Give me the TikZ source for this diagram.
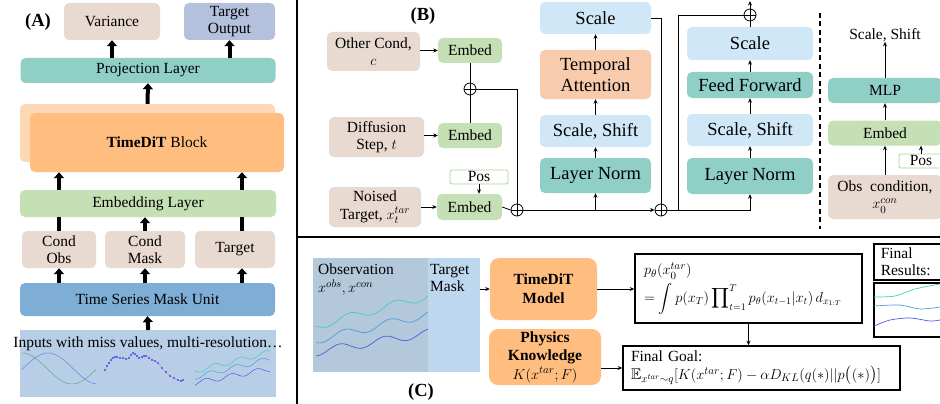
\documentclass[tikz,border=0pt]{standalone}
\usepackage{amsmath,amssymb}
\usepackage{fontspec}
\setmainfont{Liberation Serif}
\usetikzlibrary{arrows.meta}

\definecolor{condtan}{HTML}{E8DAD0}
\definecolor{outblue}{HTML}{B4C1DC}
\definecolor{projteal}{HTML}{8FCFC6}
\definecolor{blklight}{HTML}{FDD8B4}
\definecolor{blkorange}{HTML}{FFBE80}
\definecolor{embgreen}{HTML}{C5E0B4}
\definecolor{posgreen}{HTML}{A9D49A}
\definecolor{maskblue}{HTML}{7EAED6}
\definecolor{inblue}{HTML}{B7CEE6}
\definecolor{scaleblue}{HTML}{D0E7F8}
\definecolor{attsalmon}{HTML}{F8CBAD}
\definecolor{obsgray}{HTML}{B4C8DC}
\definecolor{tmaskblue}{HTML}{BDD7EE}
\definecolor{wteal}{HTML}{45CDB2}
\definecolor{wblue}{HTML}{4C9DD8}
\definecolor{wdark}{HTML}{4A5BE0}
\definecolor{sgreen}{HTML}{5FAA84}
\definecolor{sblue}{HTML}{6283E0}
\definecolor{npink}{HTML}{C79AB2}

\begin{document}
\begin{tikzpicture}[x=1pt, y=-1pt,
  every node/.style={font=\fontsize{15.5}{17.5}\selectfont, inner sep=0pt},
  box/.style={rounded corners=5pt, align=center},
  bigbox/.style={box, font=\fontsize{18.5}{21}\selectfont},
  tag/.style={font=\fontsize{18.5}{21}\selectfont\bfseries},
  fatarr/.style={line width=4pt, -{Triangle[length=6pt,width=10pt]}},
  fatbar/.style={line width=4pt},
  arr/.style={line width=0.8pt, -{Stealth[length=4.5pt,width=4pt]}},
  conn/.style={line width=0.8pt},
  frame/.style={draw, line width=1.5pt},
  wave/.style={line width=0.7pt, smooth},
  oplus/.style={circle, draw, line width=0.8pt, minimum size=12pt,
    path picture={\draw[line width=0.8pt]
      (path picture bounding box.north) -- (path picture bounding box.south)
      (path picture bounding box.west) -- (path picture bounding box.east);}}]
\useasboundingbox (0,0) rectangle (940,404);

% ---- (A) overall model ----
\node[tag] (taga) at (38,22) {(A)};
\node[box, fill=condtan, minimum width=96pt, minimum height=37pt] (var) at (112,21.5) {Variance};
\node[box, fill=outblue, minimum width=91pt, minimum height=37pt] (tgtout) at (229.5,21.5) {Target\\Output};
\node[box, fill=projteal, minimum width=255pt, minimum height=25pt] (proj) at (148,70.5) {Projection Layer};
\node[box, fill=blklight, minimum width=255pt, minimum height=58pt] (blkbg) at (147.5,133) {};
\node[box, fill=blkorange, minimum width=254pt, minimum height=59pt] (blk) at (157,142.5) {\textbf{TimeDiT} Block};
\node[box, fill=embgreen, minimum width=256pt, minimum height=27pt] (emb) at (148,203.5) {Embedding Layer};
\node[box, fill=condtan, minimum width=74pt, minimum height=37pt] (cobs) at (59,249.5) {Cond\\Obs};
\node[box, fill=condtan, minimum width=80pt, minimum height=37pt] (cmask) at (145,249.5) {Cond\\Mask};
\node[box, fill=condtan, minimum width=80pt, minimum height=37pt] (ctgt) at (235,249.5) {Target};
\node[box, fill=maskblue, minimum width=255pt, minimum height=33pt] (tsmu) at (147.5,299.5) {Time Series Mask Unit};
\node[fill=inblue, minimum width=256pt, minimum height=67pt, anchor=north west] (inp) at (20,330) {};
\node (inptxt) at (148,344) {Inputs with miss values, multi-resolution…};

% little input sketches
\draw[sgreen, line width=0.5pt] plot[domain=22:96, samples=40, smooth] (\x, {368.5-15.5*cos((\x-22)*3.6)});
\draw[sblue, line width=0.5pt] plot[domain=22:96, samples=40, smooth] (\x, {368.5-15.5*cos((\x-48)*3.6)});
\draw[npink, line width=0.6pt] plot[smooth, tension=0.3] coordinates {(105,370) (109,363) (112,358) (117,357) (122,358) (128,359) (133,353) (137,356) (140,358) (146,356) (151,359) (157,362) (161,367) (165,372) (168,374) (172,377) (176,379) (180,381) (183,380)};
\draw[blue!80, only marks, mark=*, mark size=0.55pt] plot coordinates {(105,370) (107,366) (109,363) (111,360) (113,358) (115,357) (117,357) (120,358) (123,358) (126,359) (129,358) (131,355) (133,353) (135,354) (137,356) (139,358) (142,357) (144,356) (146,356) (149,358) (152,360) (155,361) (158,363) (162,368) (166,372) (170,376) (174,378) (178,380) (181,381) (183,380)};
\draw[wteal, line width=0.5pt] plot[domain=195:270, samples=40, smooth] (\x, {371-(\x-195)*0.25+2.5*sin((\x-195)*14)});
\draw[wblue, line width=0.5pt] plot[domain=195:270, samples=40, smooth] (\x, {377-(\x-195)*0.24+2.5*sin((\x-195)*14+60)});
\draw[wdark, line width=0.5pt] plot[domain=195:270, samples=40, smooth] (\x, {383-(\x-195)*0.19+2.5*sin((\x-195)*14+120)});

\coordinate (tcol) at (242,0);
\draw[fatarr] (proj.north -| var.south) -- (var.south);
\draw[fatarr] (proj.north -| tgtout.south) -- (tgtout.south);
\draw[fatarr] (blkbg.north) -- (proj.south);
\draw[fatarr] (emb.north -| cobs.north) -- (blk.south -| cobs.north);
\draw[fatarr] (emb.north -| tcol) -- (blk.south -| tcol);
\draw[fatbar] (cobs.north) -- (cobs.north |- emb.south);
\draw[fatarr] (cmask.north) -- (cmask.north |- emb.south);
\draw[fatbar] (ctgt.north -| tcol) -- (emb.south -| tcol);
\draw[fatarr] (tsmu.north -| cobs.south) -- (cobs.south);
\draw[fatarr] (tsmu.north -| cmask.south) -- (cmask.south);
\draw[fatarr] (tsmu.north -| tcol) -- (ctgt.south -| tcol);
\draw[fatarr] (inp.north) -- (tsmu.south);

% panel borders
\draw[line width=1.3pt] (297,0) -- (297,404);
\draw[line width=1.3pt] (297,237) -- (940,237);

% ---- (B) TimeDiT block ----
\node[tag] (tagb) at (423,16) {(B)};
\node[box, fill=condtan, minimum width=93pt, minimum height=39pt] (ocond) at (373.5,51.5) {Other Cond,\\$c$};
\node[box, fill=embgreen, minimum width=64pt, minimum height=25pt] (emb1) at (470,50.5) {Embed};
\node[box, fill=condtan, minimum width=95pt, minimum height=40pt] (dstep) at (376.5,137) {Diffusion\\Step, $t$};
\node[box, fill=embgreen, minimum width=64pt, minimum height=25pt] (emb2) at (470,135.5) {Embed};
\node[box, fill=condtan, minimum width=92pt, minimum height=40pt] (ntgt) at (375,207) {Noised\\Target, $x_t^{tar}$};
\node[box, fill=embgreen, minimum width=65pt, minimum height=26pt] (emb3) at (469.5,207) {Embed};
\node[draw=posgreen, fill=white, rounded corners=2pt, line width=0.8pt, minimum width=58pt, minimum height=14pt] (pos1) at (479,177) {Pos};
\node[oplus] (plus1) at (470,89) {};
\node[oplus] (plus2) at (517,210) {};
\node[oplus] (plus3) at (661,210) {};
\node[oplus] (plus4) at (750,15) {};

\node[bigbox, fill=scaleblue, minimum width=111pt, minimum height=32pt] (sc1) at (595.5,18) {Scale};
\node[bigbox, fill=attsalmon, minimum width=111pt, minimum height=49pt] (tatt) at (595.5,74.5) {Temporal\\Attention};
\node[bigbox, fill=scaleblue, minimum width=111pt, minimum height=32pt] (ss1) at (595.5,131) {Scale, Shift};
\node[bigbox, fill=projteal, minimum width=111pt, minimum height=35pt] (ln1) at (595.5,175.5) {Layer Norm};

\node[bigbox, fill=scaleblue, minimum width=126pt, minimum height=33pt] (sc2) at (750,43.5) {Scale};
\node[bigbox, fill=projteal, minimum width=126pt, minimum height=26pt] (ff) at (750,85) {Feed Forward};
\node[bigbox, fill=scaleblue, minimum width=126pt, minimum height=32pt] (ss2) at (750,130) {Scale, Shift};
\node[bigbox, fill=projteal, minimum width=126pt, minimum height=36pt] (ln2) at (750,176) {Layer Norm};

\draw[arr] (ocond.east |- emb1) -- (emb1.west);
\draw[arr] (dstep.east |- emb2) -- (emb2.west);
\draw[arr] (ntgt.east |- emb3) -- (emb3.west);
\draw[arr] (pos1.south) -- (pos1.south |- emb3.north);
\draw[conn] (emb1.south) -- (plus1.north);
\draw[conn] (emb2.north) -- (plus1.south);
\draw[conn] (plus1.east) -| (plus2.north);
\draw[conn] (emb3.east) -- (plus2.west);
\draw[arr] (plus2.east) -- (plus3.west);
\draw[arr] (ln1.south |- plus2) -- (ln1.south);
\draw[arr] (ln1) -- (ss1);
\draw[arr] (ss1) -- (tatt);
\draw[arr] (tatt) -- (sc1);
\draw[conn] (sc1.east) -| (plus3.north);

\coordinate (fork) at (678,210);
\coordinate (outtop) at (750,1);
\draw[conn] (plus3.east) -- (fork) |- (plus4.west);
\draw[arr] (fork) -| (ln2.south);
\draw[arr] (ln2) -- (ss2);
\draw[arr] (ss2) -- (ff);
\draw[arr] (ff) -- (sc2);
\draw[conn] (sc2.north) -- (plus4.south);
\draw[arr] (plus4.north) -- (outtop);

% condition branch
\draw[line width=1.2pt, dash pattern=on 5pt off 3.5pt] (820,13) -- (820,229);
\node (ssout) at (885,35) {Scale, Shift};
\node[box, fill=projteal, minimum width=114pt, minimum height=25pt] (mlp) at (885,90.5) {MLP};
\node[box, fill=embgreen, minimum width=114pt, minimum height=25pt] (emb4) at (885,133) {Embed};
\node[draw=posgreen, fill=white, rounded corners=2pt, line width=0.8pt, minimum width=44pt, minimum height=14pt] (pos2) at (921,161) {Pos};
\node[box, fill=condtan, minimum width=114pt, minimum height=44pt] (obs) at (885,197) {Obs\ \ condition,\\$x_0^{con}$};
\draw[arr] (obs) -- (emb4);
\draw[arr] (pos2.north) -- (pos2.north |- emb4.south);
\draw[arr] (emb4) -- (mlp);
\draw[arr] (mlp) -- (ssout);

% ---- (C) physics guided sampling ----
\node[fill=obsgray, minimum width=115pt, minimum height=114pt, anchor=north west] (obsbg) at (313,258) {};
\node[fill=tmaskblue, minimum width=52pt, minimum height=114pt, anchor=north west] (maskbg) at (428,258) {};
\node[anchor=north west, align=left] (obstxt) at (318,264) {Observation\\$x^{obs},x^{con}$};
\node[anchor=north west, align=left] (tmtxt) at (430,264) {Target\\Mask};
\draw[wteal, wave] plot[domain=316:428, samples=50] (\x, {326-(\x-316)*0.27+4*sin((\x-316)*8)});
\draw[wblue, wave] plot[domain=316:428, samples=50] (\x, {340-(\x-316)*0.23+4*sin((\x-316)*8+40)});
\draw[wdark, wave] plot[domain=316:428, samples=50] (\x, {352-(\x-316)*0.17+4*sin((\x-316)*8+80)});
\node[tag] (tagc) at (421,392) {(C)};

\node[box, rounded corners=9pt, fill=blkorange, minimum width=107pt, minimum height=62pt, font=\fontsize{15.5}{19}\selectfont\bfseries] (tmodel) at (543.5,289) {TimeDiT\\Model};
\node[box, rounded corners=9pt, fill=blkorange, minimum width=112pt, minimum height=56pt, font=\fontsize{15.5}{18.5}\selectfont] (phys) at (545,357) {\textbf{Physics}\\\textbf{Knowledge}\\$K(x^{tar};F)$};
\node[frame, minimum width=227pt, minimum height=69pt, text width=209pt, align=left] (fml) at (748.5,288.5)
  {$p_\theta(x_0^{tar})$\\[3pt]\fontsize{14}{16}\selectfont\mbox{$=\displaystyle\int p(x_T)\prod\nolimits_{t=1}^{T} p_\theta(x_{t-1}|x_t)\,d_{x_{1:T}}$}};
\node[frame, minimum width=277pt, minimum height=44pt, text width=261pt, align=left] (goal) at (761.5,368)
  {Final Goal:\\$\mathbb{E}_{x^{tar}\sim q}[K(x^{tar};F)-\alpha D_{KL}(q(*)||p\big((*)\big)]$};
\draw[arr] (maskbg.east |- tmodel.west) -- (tmodel.west);
\draw[arr] (tmodel.east) -- (tmodel.east -| fml.west);
\draw[arr] (fml.south) -- (fml.south |- goal.north);
\draw[arr] (phys.east |- goal.west) -- (goal.west);

% results
\node[frame, minimum width=72pt, minimum height=36pt, text width=58pt, align=left, anchor=north west] (reslbl) at (873,243) {Final\\Results:};
\node[frame, minimum width=72pt, minimum height=54pt, anchor=north west] (resplot) at (873,282) {};
\draw[wteal, wave] plot coordinates {(874,297) (895,296) (915,289) (940,284)};
\draw[wblue, wave] plot coordinates {(874,306) (900,305) (920,309) (940,307)};
\draw[wdark, wave] plot coordinates {(874,326) (890,320) (910,318) (930,321) (940,320)};
\end{tikzpicture}
\end{document}
